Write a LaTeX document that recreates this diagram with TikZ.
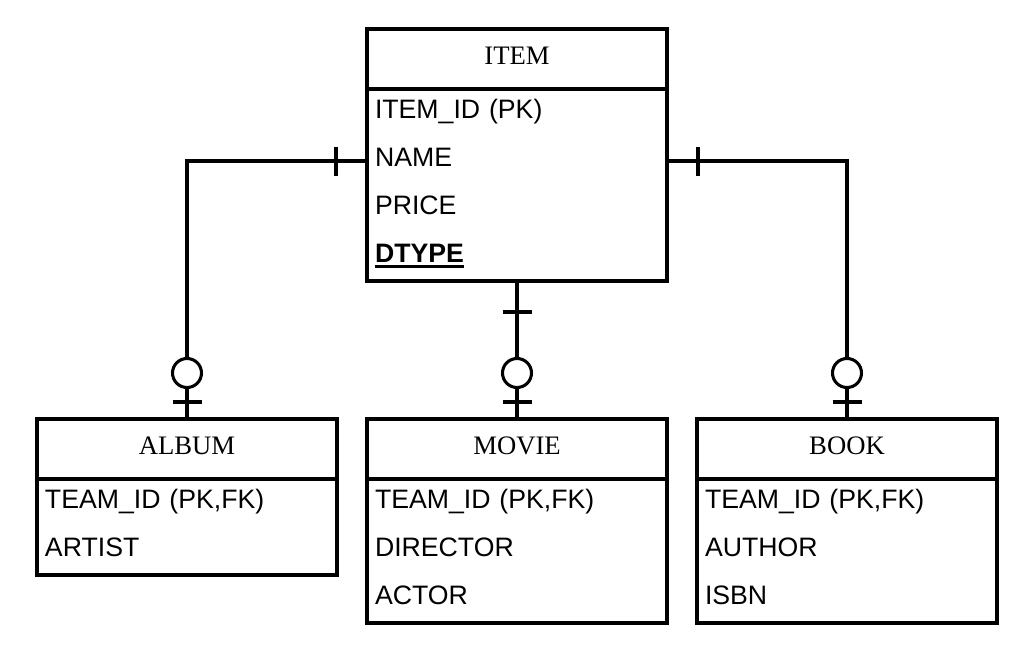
\documentclass[tikz,border=0pt]{standalone}
\usepackage{fontspec}
\setmainfont{Liberation Serif}
\setsansfont{Liberation Sans}
\usetikzlibrary{calc}
\newcommand\thickul[1]{\vtop{\hbox{#1}\kern1.8pt\hrule height 2.2pt}}
\tikzset{
  link/.style={line width=2.3pt, line cap=butt},
  entbox/.style={draw, line width=2.3pt, outer sep=0pt, minimum width=225pt, inner sep=0pt, anchor=north west},
  hdr/.style={minimum width=225pt, minimum height=45pt, inner sep=0pt, outer sep=0pt, anchor=north west,
    font=\fontsize{20pt}{24pt}\selectfont\rmfamily, text height=11.25pt, text depth=3pt},
  attr/.style={minimum height=36pt, inner xsep=6pt, inner ysep=0pt, outer sep=0pt, anchor=north west,
    text width=213pt, align=left,
    font=\fontsize{20pt}{24pt}\selectfont\sffamily, text height=11.25pt, text depth=3pt},
  sep/.style={line width=2.3pt},
  tick/.pic={\draw[link] (-14.5,0) -- (14.5,0);},
  ring/.pic={\draw[link, fill=white] (0,0) circle[radius=14.5];}
}
\begin{document}
\begin{tikzpicture}[x=0.75pt, y=-0.75pt]
\path[use as bounding box] (0,0) rectangle (1026,650);

% ITEM
\node[entbox, minimum height=189pt] (item) at (367,29) {};
\node[hdr] (item-h) at (367,29) {ITEM};
\draw[sep] (item-h.south west) -- (item-h.south east);
\node[attr] (item-r1) at (item-h.south west) {ITEM\_ID (PK)};
\node[attr] (item-r2) at (item-r1.south west) {NAME};
\node[attr] (item-r3) at (item-r2.south west) {PRICE};
\node[attr] (item-r4) at (item-r3.south west) {\thickul{\textbf{DTYPE}}};

% ALBUM
\node[entbox, minimum height=117pt] (album) at (37,419) {};
\node[hdr] (album-h) at (37,419) {ALBUM};
\draw[sep] (album-h.south west) -- (album-h.south east);
\node[attr] (album-r1) at (album-h.south west) {TEAM\_ID (PK,FK)};
\node[attr] (album-r2) at (album-r1.south west) {ARTIST};

% MOVIE
\node[entbox, minimum height=153pt] (movie) at (367,419) {};
\node[hdr] (movie-h) at (367,419) {MOVIE};
\draw[sep] (movie-h.south west) -- (movie-h.south east);
\node[attr] (movie-r1) at (movie-h.south west) {TEAM\_ID (PK,FK)};
\node[attr] (movie-r2) at (movie-r1.south west) {DIRECTOR};
\node[attr] (movie-r3) at (movie-r2.south west) {ACTOR};

% BOOK
\node[entbox, minimum height=153pt] (book) at (697,419) {};
\node[hdr] (book-h) at (697,419) {BOOK};
\draw[sep] (book-h.south west) -- (book-h.south east);
\node[attr] (book-r1) at (book-h.south west) {TEAM\_ID (PK,FK)};
\node[attr] (book-r2) at (book-r1.south west) {AUTHOR};
\node[attr] (book-r3) at (book-r2.south west) {ISBN};

% connectors
\draw[link] (item-r2.west) -| (album-h.north);
\draw[link] (item.south) -- (movie-h.north);
\draw[link] (item-r2.east) -| (book-h.north);

% markers near ITEM (exactly one)
\pic[rotate=90] at ($(item-r2.west)+(-31,0)$) {tick};
\pic[rotate=90] at ($(item-r2.east)+(31,0)$) {tick};
\pic at ($(item.south)+(0,31)$) {tick};

% markers near children (zero or one)
\foreach \c in {album-h,movie-h,book-h}{
  \pic at ($(\c.north)+(0,-17)$) {tick};
  \pic at ($(\c.north)+(0,-46)$) {ring};
}
\end{tikzpicture}
\end{document}
